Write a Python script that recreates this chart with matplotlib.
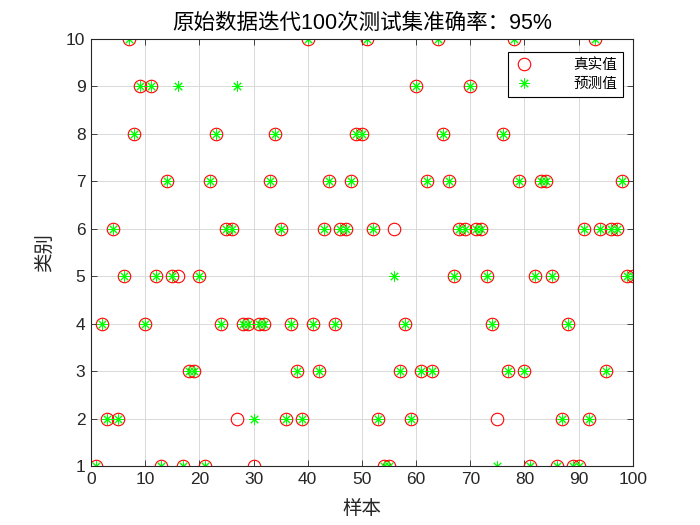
import matplotlib
matplotlib.use("Agg")
import matplotlib.pyplot as plt
import numpy as np

plt.rcParams['font.family'] = ['Liberation Sans', 'Noto Sans CJK SC', 'DejaVu Sans']

samples = list(range(1, 101))
true_vals = [1, 4, 2, 6, 2, 5, 10, 8, 9, 4,
             9, 5, 1, 7, 5, 5, 1, 3, 3, 5,
             1, 7, 8, 4, 6, 6, 2, 4, 4, 1,
             4, 4, 7, 8, 6, 2, 4, 3, 2, 10,
             4, 3, 6, 7, 4, 6, 6, 7, 8, 8,
             10, 6, 2, 1, 1, 6, 3, 4, 2, 9,
             3, 7, 3, 10, 8, 7, 5, 6, 6, 9,
             6, 6, 5, 4, 2, 8, 3, 10, 7, 3,
             1, 5, 7, 7, 5, 1, 2, 4, 1, 1,
             6, 2, 10, 6, 3, 6, 6, 7, 5, 5]
pred_vals = list(true_vals)
pred_vals[15] = 9   # sample 16
pred_vals[26] = 9   # sample 27
pred_vals[29] = 2   # sample 30
pred_vals[55] = 5   # sample 56
pred_vals[74] = 1   # sample 75

accuracy = 95
title_text = '原始数据迭代100次测试集准确率：' + f'{accuracy}%'
legend_labels = ['真实值', '预测值']
x_label = '样本'
y_label = '类别'

fig = plt.figure(figsize=(7, 5.25), dpi=100)
ax = fig.add_axes([0.13, 0.1124, 0.774, 0.8133])

ax.plot(samples, true_vals, 'o', color=(1, 0, 0), markerfacecolor='none',
        markersize=9, markeredgewidth=0.8, label=legend_labels[0], linestyle='none')
ax.plot(samples, pred_vals, marker=(8, 2, 0), color=(0, 1, 0), markersize=7.5,
        markeredgewidth=0.7, label=legend_labels[1], linestyle='none')

ax.set_xlim(0, 100)
ax.set_ylim(1, 10)
ax.set_xticks(np.arange(0, 101, 10))
ax.set_yticks(np.arange(1, 11, 1))
ax.grid(True, color=(0.85, 0.85, 0.85), linewidth=0.7)
ax.set_axisbelow(True)
ax.tick_params(direction='in', length=4, labelsize=12.5, colors=(0.15, 0.15, 0.15),
               top=True, right=True, labeltop=False, labelright=False, width=0.6, pad=4)
for s in ax.spines.values():
    s.set_color((0.15, 0.15, 0.15))
    s.set_linewidth(0.8)

ax.set_title(title_text, fontsize=15.5, family=['Liberation Sans', 'Noto Sans CJK SC'], pad=7)
ax.set_xlabel(x_label, fontsize=14, family=['Noto Sans CJK SC', 'DejaVu Sans'], labelpad=8,
              color=(0.15, 0.15, 0.15))
ax.set_ylabel(y_label, fontsize=14, family=['Noto Sans CJK SC', 'DejaVu Sans'], labelpad=8,
              color=(0.15, 0.15, 0.15))

leg = ax.legend(loc='upper right', bbox_to_anchor=(0.982, 0.97), fancybox=False,
                edgecolor='black', framealpha=1, prop={'family': ['Noto Sans CJK SC'], 'size': 10.5},
                handlelength=1.5, borderpad=0.4, labelspacing=0.35, handletextpad=2.6,
                borderaxespad=0)
leg.get_frame().set_linewidth(0.8)

fig.savefig('out.png', dpi=100, facecolor='white')
